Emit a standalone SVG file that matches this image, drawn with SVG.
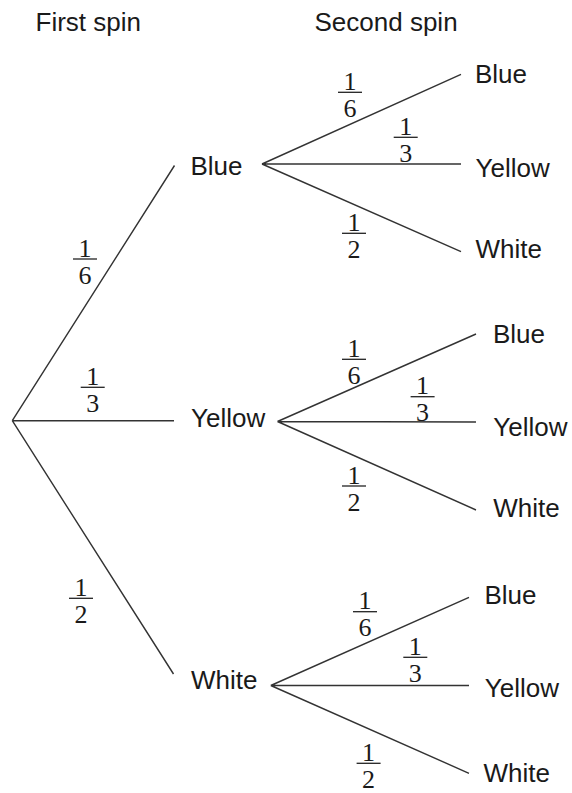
<svg xmlns="http://www.w3.org/2000/svg" width="572" height="793" viewBox="0 0 572 793">
<defs>
<style>
.lbl{font-family:"Liberation Sans",Arial,sans-serif;font-size:26px;fill:#1a1a1a}
.num{font-family:"Liberation Serif","Times New Roman",serif;font-size:26px;fill:#1a1a1a;text-anchor:middle}
.edge{stroke:#333;stroke-width:1.4;fill:none}
.bar{stroke:#222;stroke-width:1.3}
</style>
</defs>
<rect width="572" height="793" fill="#fff"/>
<g id="headers">
<text class="lbl" x="35.5" y="30.7">First spin</text>
<text class="lbl" x="314.5" y="30.7">Second spin</text>
</g>
<g id="connectors">
<path class="edge" d="M12.3 420.7L174.5 165.5M12.3 420.7L174 420.7M12.3 420.7L173.5 674"/>
<path class="edge" d="M262 164L461 74.3M262 164L461 164M262 164L461 251.7"/>
<path class="edge" d="M277.5 421.5L476 334M277.5 421.5L476 422M277.5 421.5L476 510"/>
<path class="edge" d="M270.8 685.5L469 597.3M270.8 685.5L469 685.5M270.8 685.5L469 773.3"/>
<g id="probabilities">
<g transform="translate(85,259)"><text class="num" y="-2.5">1</text><line class="bar" x1="-12" x2="12"/><text class="num" y="24.5">6</text></g>
<g transform="translate(92.7,387.3)"><text class="num" y="-2.5">1</text><line class="bar" x1="-12" x2="12"/><text class="num" y="24.5">3</text></g>
<g transform="translate(81,598.3)"><text class="num" y="-2.5">1</text><line class="bar" x1="-12" x2="12"/><text class="num" y="24.5">2</text></g>
<g transform="translate(350,92.3)"><text class="num" y="-2.5">1</text><line class="bar" x1="-12" x2="12"/><text class="num" y="24.5">6</text></g>
<g transform="translate(405.7,137.3)"><text class="num" y="-2.5">1</text><line class="bar" x1="-12" x2="12"/><text class="num" y="24.5">3</text></g>
<g transform="translate(354,233.3)"><text class="num" y="-2.5">1</text><line class="bar" x1="-12" x2="12"/><text class="num" y="24.5">2</text></g>
<g transform="translate(354,359.3)"><text class="num" y="-2.5">1</text><line class="bar" x1="-12" x2="12"/><text class="num" y="24.5">6</text></g>
<g transform="translate(422.6,396.7)"><text class="num" y="-2.5">1</text><line class="bar" x1="-12" x2="12"/><text class="num" y="24.5">3</text></g>
<g transform="translate(354,486)"><text class="num" y="-2.5">1</text><line class="bar" x1="-12" x2="12"/><text class="num" y="24.5">2</text></g>
<g transform="translate(365,611.7)"><text class="num" y="-2.5">1</text><line class="bar" x1="-12" x2="12"/><text class="num" y="24.5">6</text></g>
<g transform="translate(415.3,657.3)"><text class="num" y="-2.5">1</text><line class="bar" x1="-12" x2="12"/><text class="num" y="24.5">3</text></g>
<g transform="translate(368.6,763.3)"><text class="num" y="-2.5">1</text><line class="bar" x1="-12" x2="12"/><text class="num" y="24.5">2</text></g>
</g>
</g>
<g id="n-blue"><text class="lbl" x="190.5" y="175">Blue</text></g>
<g id="n-yellow"><text class="lbl" x="191" y="427.3">Yellow</text></g>
<g id="n-white"><text class="lbl" x="191" y="688.5">White</text></g>
<g id="n-blue-blue"><text class="lbl" x="475" y="83.3">Blue</text></g>
<g id="n-blue-yellow"><text class="lbl" x="475.5" y="176.7">Yellow</text></g>
<g id="n-blue-white"><text class="lbl" x="475.5" y="258.3">White</text></g>
<g id="n-yellow-blue"><text class="lbl" x="493" y="342.7">Blue</text></g>
<g id="n-yellow-yellow"><text class="lbl" x="493.3" y="436">Yellow</text></g>
<g id="n-yellow-white"><text class="lbl" x="493.3" y="517.3">White</text></g>
<g id="n-white-blue"><text class="lbl" x="484.5" y="604">Blue</text></g>
<g id="n-white-yellow"><text class="lbl" x="484.8" y="696.7">Yellow</text></g>
<g id="n-white-white"><text class="lbl" x="483.5" y="781.7">White</text></g>
</svg>
